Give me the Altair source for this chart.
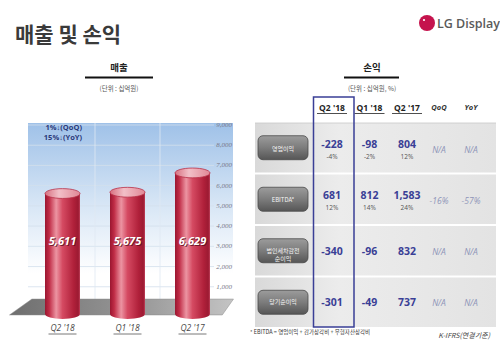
import altair as alt
import pandas as pd

# ---------------- data ----------------
quarters = ["Q2 '18", "Q1 '18", "Q2 '17"]
revenue = [5611, 5675, 6629]
revenue_text = ["5,611", "5,675", "6,629"]
y_ticks = [1000, 2000, 3000, 4000, 5000, 6000, 7000, 8000, 9000]
y_tick_text = ["1,000", "2,000", "3,000", "4,000", "5,000", "6,000", "7,000", "8,000", "9,000"]
change_note = "1%↓(QoQ)\n15%↓(YoY)"

rows = ["영업이익", "EBITDA*", "법인세차감전 순이익", "당기순이익"]
row_labels = ["영업이익", "EBITDA*", "법인세차감전\n순이익", "당기순이익"]
period_cols = ["Q2 '18", "Q1 '18", "Q2 '17"]
change_cols = ["QoQ", "YoY"]
profit_values = [["-228", "-98", "804"], ["681", "812", "1,583"], ["-340", "-96", "832"], ["-301", "-49", "737"]]
profit_margins = [["-4%", "-2%", "12%"], ["12%", "14%", "24%"], None, None]
change_values = [["N/A", "N/A"], ["-16%", "-57%"], ["N/A", "N/A"], ["N/A", "N/A"]]

title_text = "매출 및 손익"
left_heading = "매출"
left_unit = "(단위 : 십억원)"
right_heading = "손익"
right_unit = "(단위 : 십억원, %)"
footnote = "* EBITDA = 영업이익 + 감가상각비 + 무형자산상각비"
basis_note = "K-IFRS(연결기준)"
brand = "LG Display"

# ---------------- frames ----------------
rev_df = pd.DataFrame({"quarter": quarters, "value": revenue, "label": revenue_text, "zero": [0, 0, 0]})
tick_df = pd.DataFrame({"tick": y_ticks, "label": y_tick_text})
div_df = pd.DataFrame({"quarter": quarters[1:]})
row_df = pd.DataFrame({"row": rows, "label": row_labels})
hdr_p = pd.DataFrame({"col": period_cols})
hdr_c = pd.DataFrame({"col": change_cols})

vals_m, vals_n, margins, changes = [], [], [], []
for r, vs, ms, cs in zip(rows, profit_values, profit_margins, change_values):
    for c, v in zip(period_cols, vs):
        (vals_m if ms else vals_n).append({"row": r, "col": c, "t": v})
    if ms:
        for c, m in zip(period_cols, ms):
            margins.append({"row": r, "col": c, "t": m})
    for c, v in zip(change_cols, cs):
        changes.append({"row": r, "col": c, "t": v})
vals_m, vals_n, margins, changes = map(pd.DataFrame, (vals_m, vals_n, margins, changes))
one = pd.DataFrame({"k": [0]})

KR = "Noto Sans CJK KR"
SANS = "Open Sans"
NAVY = "#3a3f96"


def grad(stops, x2=1, y2=0):
    return alt.LinearGradient(gradient="linear", x1=0, y1=0, x2=x2, y2=y2,
                              stops=[alt.GradientStop(offset=o, color=c) for o, c in stops])


def qx():
    return alt.X("quarter:N", sort=quarters, axis=None,
                 scale=alt.Scale(domain=quarters, range=[30, 225], paddingInner=0, paddingOuter=0))


def vy(field):
    return alt.Y(f"{field}:Q", axis=None, scale=alt.Scale(domain=[0, 9000], range=[307, 125]))


def ry():
    return alt.Y("row:N", sort=rows, axis=None,
                 scale=alt.Scale(domain=rows, range=[123, 327], paddingInner=0.04, paddingOuter=0))


def px():
    return alt.X("col:N", axis=None, scale=alt.Scale(type="point", domain=period_cols, range=[332, 407], padding=0))


def cx():
    return alt.X("col:N", axis=None, scale=alt.Scale(type="point", domain=change_cols, range=[439, 471], padding=0))


ELLIPSE = ("M-1,0 C-1,-0.155 -0.552,-0.28 0,-0.28 C0.552,-0.28 1,-0.155 1,0 "
           "C1,0.155 0.552,0.28 0,0.28 C-0.552,0.28 -1,0.155 -1,0 Z")
HLINE = "M-1,0 L1,0"
FLOOR = "M-0.8,-0.071 L1,-0.071 L0.9,0.071 L-1,0.071 Z"

cyl = grad([(0, "#9a1630"), (0.12, "#c02c46"), (0.32, "#ec94a2"), (0.5, "#d54a62"),
            (0.82, "#b0203a"), (0.95, "#9c1a32"), (1, "#c0405a")])

layers = []
# left panel background
layers.append(alt.Chart(one).mark_rect(fill=grad([(0, "#9fc1e8"), (0.45, "#d6e5f5"), (0.85, "#ffffff"), (1, "#ffffff")], x2=0, y2=1))
              .encode(x=alt.value(28), x2=alt.value(233), y=alt.value(123), y2=alt.value(300)))
layers.append(alt.Chart(tick_df).mark_rule(color="#d3dfec", strokeWidth=0.8)
              .encode(y=vy("tick"), x=alt.value(28), x2=alt.value(214)))
layers.append(alt.Chart(div_df).mark_rule(color="#dfe8f2", strokeWidth=0.8)
              .encode(x=alt.X("quarter:N", sort=quarters, axis=None, bandPosition=0,
                              scale=alt.Scale(domain=quarters, range=[30, 225], paddingInner=0, paddingOuter=0)),
                      y=alt.value(123), y2=alt.value(300)))
# floor
layers.append(alt.Chart(one).mark_point(shape=FLOOR, size=224 ** 2, filled=True, opacity=1,
                                        fill=grad([(0, "#6e6e6e"), (0.6, "#9a9a9a"), (1, "#c4c4c4")]),
                                        stroke="#8a8a8a", strokeWidth=0.5)
              .encode(x=alt.value(121.5), y=alt.value(307)))
# cylinders
layers.append(alt.Chart(rev_df).mark_point(shape=ELLIPSE, size=35 ** 2, filled=True, opacity=1, fill=cyl, yOffset=7)
              .encode(x=qx(), y=vy("zero")))
layers.append(alt.Chart(rev_df).mark_bar(width=35, fill=cyl, y2Offset=7)
              .encode(x=qx(), y=vy("value"), y2=alt.Y2("zero:Q")))
layers.append(alt.Chart(rev_df).mark_point(shape=ELLIPSE, size=35 ** 2, filled=True, opacity=1,
                                           fill=grad([(0, "#d87080"), (0.4, "#f2c0c8"), (1, "#e08896")]),
                                           stroke="#b83048", strokeWidth=0.8)
              .encode(x=qx(), y=vy("value")))
layers.append(alt.Chart(rev_df).mark_text(font=SANS, fontSize=11, fontWeight="bold", fontStyle="italic",
                                          color="#5a1020", opacity=0.8, dx=1, dy=1)
              .encode(x=qx(), y=alt.value(242), text="label:N"))
layers.append(alt.Chart(rev_df).mark_text(font=SANS, fontSize=11, fontWeight="bold", fontStyle="italic",
                                          color="#ffffff")
              .encode(x=qx(), y=alt.value(242), text="label:N"))
# y tick labels
layers.append(alt.Chart(tick_df).mark_text(font="Liberation Serif", fontSize=7, fontStyle="italic",
                                           color="#7a7a8a", align="right")
              .encode(y=vy("tick"), x=alt.value(232), text="label:N"))
# x labels
layers.append(alt.Chart(rev_df).mark_text(font=SANS, fontSize=8.5, fontStyle="italic", color="#4a4a4a")
              .encode(x=qx(), y=alt.value(328), text="quarter:N"))
layers.append(alt.Chart(rev_df).mark_point(shape=HLINE, size=28 ** 2, filled=False, opacity=1,
                                           stroke="#555555", strokeWidth=0.8)
              .encode(x=qx(), y=alt.value(334)))
# change note
layers.append(alt.Chart(one).mark_text(font=SANS, fontSize=7.5, fontWeight="bold", color="#2b3a7a",
                                       align="right", lineBreak="\n", lineHeight=9.5, baseline="top")
              .encode(x=alt.value(82), y=alt.value(124), text=alt.value(change_note)))

# headings
for cx_, heading, unit, x1, x2 in [(119, left_heading, left_unit, 85, 153), (372, right_heading, right_unit, 344, 399)]:
    layers.append(alt.Chart(one).mark_text(font=KR, fontSize=9.5, fontWeight="bold", color="#222222")
                  .encode(x=alt.value(cx_), y=alt.value(68), text=alt.value(heading)))
    layers.append(alt.Chart(one).mark_rule(color="#111111", strokeWidth=2)
                  .encode(x=alt.value(x1), x2=alt.value(x2), y=alt.value(77.5)))
    layers.append(alt.Chart(one).mark_text(font=KR, fontSize=6.5, color="#555555")
                  .encode(x=alt.value(cx_), y=alt.value(89), text=alt.value(unit)))

# title and brand
layers.append(alt.Chart(one).mark_text(font=KR, fontSize=21, fontWeight="bold", color="#3a3a3a", align="left")
              .encode(x=alt.value(15), y=alt.value(36), text=alt.value(title_text)))
layers.append(alt.Chart(one).mark_point(shape="circle", size=256, filled=True, opacity=1, color="#c5134d")
              .encode(x=alt.value(427), y=alt.value(23)))
layers.append(alt.Chart(one).mark_point(shape="circle", size=5, filled=True, opacity=1, color="#ffffff")
              .encode(x=alt.value(424), y=alt.value(20)))
layers.append(alt.Chart(one).mark_text(font=SANS, fontSize=12.5, fontWeight=600, color="#5a5a5a", align="left")
              .encode(x=alt.value(437), y=alt.value(23.5), text=alt.value(brand)))

# right table
layers.append(alt.Chart(row_df).mark_rect(fill=grad([(0, "#d9d9d9"), (0.35, "#ececec"), (1, "#e3e3e3")]))
              .encode(y=ry(), x=alt.value(255), x2=alt.value(496)))
layers.append(alt.Chart(one).mark_rule(color="#c8c8c8", strokeWidth=0.8)
              .encode(x=alt.value(255), x2=alt.value(496), y=alt.value(123)))
layers.append(alt.Chart(row_df).mark_bar(height=24, cornerRadius=5,
                                         fill=grad([(0, "#9c9c9c"), (0.5, "#7c7c7c"), (1, "#565656")], x2=0, y2=1),
                                         stroke="#4a4a4a", strokeWidth=0.8)
              .encode(y=ry(), x=alt.value(258), x2=alt.value(308)))
layers.append(alt.Chart(row_df).mark_text(font=KR, fontSize=6, color="#f4f4f4", lineBreak="\n", lineHeight=8.5)
              .encode(y=ry(), x=alt.value(283), text="label:N"))
# headers
layers.append(alt.Chart(hdr_p).mark_text(font=SANS, fontSize=8.5, fontWeight="bold", color="#222222")
              .encode(x=px(), y=alt.value(108), text="col:N"))
layers.append(alt.Chart(hdr_p).mark_point(shape=HLINE, size=30 ** 2, filled=False, opacity=1,
                                          stroke="#222222", strokeWidth=0.8)
              .encode(x=px(), y=alt.value(113.5)))
layers.append(alt.Chart(hdr_c).mark_text(font=SANS, fontSize=7.5, fontStyle="italic", fontWeight="bold", color="#333333")
              .encode(x=cx(), y=alt.value(108), text="col:N"))
# values
layers.append(alt.Chart(vals_m).mark_text(font=SANS, fontSize=10.5, fontWeight="bold", color=NAVY, dy=-4)
              .encode(x=px(), y=ry(), text="t:N"))
layers.append(alt.Chart(vals_n).mark_text(font=SANS, fontSize=10.5, fontWeight="bold", color=NAVY, dy=1)
              .encode(x=px(), y=ry(), text="t:N"))
layers.append(alt.Chart(margins).mark_text(font=SANS, fontSize=6.5, color="#555555", dy=8.5)
              .encode(x=px(), y=ry(), text="t:N"))
layers.append(alt.Chart(changes).mark_text(font=SANS, fontSize=8.5, fontStyle="italic", color="#8e94b8", dy=1)
              .encode(x=cx(), y=ry(), text="t:N"))
# highlight box
layers.append(alt.Chart(one).mark_rect(fill=None, stroke=NAVY, strokeWidth=1.5)
              .encode(x=alt.value(313.5), x2=alt.value(354), y=alt.value(97), y2=alt.value(327)))
# footnotes
layers.append(alt.Chart(one).mark_text(font=KR, fontSize=5.5, color="#333333", align="left")
              .encode(x=alt.value(250), y=alt.value(332), text=alt.value(footnote)))
layers.append(alt.Chart(one).mark_text(font=KR, fontSize=7, fontStyle="italic", color="#444444", align="right")
              .encode(x=alt.value(490), y=alt.value(336), text=alt.value(basis_note)))

chart = (alt.layer(*layers)
         .resolve_scale(x="independent", y="independent")
         .properties(width=500, height=345, padding=0, autosize=alt.AutoSizeParams(type="none"),
                     background="#ffffff")
         .configure_view(stroke=None))

chart.save("out.html", embed_options={"renderer": "svg", "actions": False})
